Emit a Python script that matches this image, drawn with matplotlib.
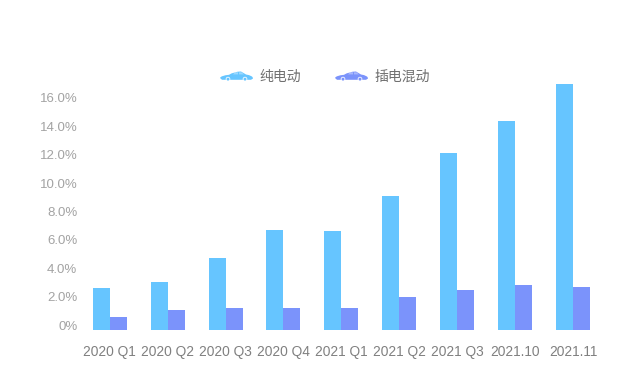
import matplotlib
matplotlib.use("Agg")
import matplotlib.pyplot as plt
from matplotlib.patches import PathPatch, Circle
from matplotlib.path import Path
from matplotlib.transforms import Affine2D

plt.rcParams['font.family'] = ['Liberation Sans', 'Noto Sans CJK SC', 'DejaVu Sans']

categories = ['2020 Q1', '2020 Q2', '2020 Q3', '2020 Q4', '2021 Q1', '2021 Q2', '2021 Q3', '2021.10', '2021.11']
bev = [2.63, 3.0, 4.72, 6.7, 6.62, 9.09, 12.09, 14.4, 17.0]
phev = [0.58, 1.06, 1.18, 1.23, 1.23, 1.97, 2.5, 2.82, 2.71]
yticks = [0, 2, 4, 6, 8, 10, 12, 14, 16]
ytick_labels = ['0%', '2.0%', '4.0%', '6.0%', '8.0%', '10.0%', '12.0%', '14.0%', '16.0%']
series_names = ['纯电动', '插电混动']

BLUE = '#66C5FF'
PURPLE = '#7B93FB'
W, H = 630, 365
fig = plt.figure(figsize=(W / 100, H / 100), dpi=100, facecolor='white')

# axes box in pixels
left, right, y_base, y_top = 80.8, 601.9, 329.8, 60.0
ax = fig.add_axes([left / W, (H - y_base) / H, (right - left) / W, (y_base - y_top) / H])
scale = 14.19
ax.set_xlim(-0.5, len(categories) - 0.5)
ax.set_ylim(-(y_base - 325) / scale, (325 - y_top) / scale)
baseline = ax.get_ylim()[0]
bw = 17 / 57.9
for i, (a, b) in enumerate(zip(bev, phev)):
    ax.bar(i - bw / 2, a - baseline, bw, bottom=baseline, color=BLUE, linewidth=0)
    ax.bar(i + bw / 2, b - baseline, bw, bottom=baseline, color=PURPLE, linewidth=0)

for s in ax.spines.values():
    s.set_visible(False)
ax.set_xticks(range(len(categories)), categories)
ax.set_yticks(yticks, ytick_labels)
ax.tick_params(axis='x', length=0, pad=11, labelsize=9.9, labelcolor='#808080')
ax.tick_params(axis='y', length=0, pad=2.5, labelsize=9.5, labelcolor='#a3a3a3')


def car(x0, y0, color):
    """Small car icon; x0, y0 = left/bottom in image pixels, y measured from the top."""
    verts = [(0, 3), (1, 5.5), (9, 6.2), (14, 9.5), (21, 9.5), (26, 6.5), (33, 5.5), (33, 2.5), (31, 1.2), (2, 1.2), (0, 3)]
    codes = [Path.MOVETO, Path.CURVE3, Path.LINETO, Path.CURVE3, Path.LINETO, Path.LINETO,
             Path.CURVE3, Path.LINETO, Path.LINETO, Path.LINETO, Path.CLOSEPOLY]
    tr = Affine2D().translate(x0, H - y0)
    fig.add_artist(PathPatch(Path(verts, codes), transform=tr, facecolor=color, edgecolor='none'))
    win = [(13, 6.6), (15, 8.7), (18, 8.7), (18, 6.6), (13, 6.6)]
    fig.add_artist(PathPatch(Path(win, closed=True), transform=tr, facecolor='white', alpha=0.35, edgecolor='none'))
    win = [(19, 6.6), (19, 8.7), (21.5, 8.7), (24, 6.6), (19, 6.6)]
    fig.add_artist(PathPatch(Path(win, closed=True), transform=tr, facecolor='white', alpha=0.35, edgecolor='none'))
    for cx in (8, 25):
        fig.add_artist(Circle((cx, 1.9), 2.3, transform=tr, facecolor='white', edgecolor='none'))
        fig.add_artist(Circle((cx, 1.9), 1.5, transform=tr, facecolor=color, edgecolor='none'))


car(220, 81, BLUE)
car(335, 81, PURPLE)
fig.text(259.5 / W, 1 - 76.5 / H, series_names[0], fontsize=10, color='#707070', va='center', ha='left')
fig.text(374 / W, 1 - 76.5 / H, series_names[1], fontsize=10, color='#707070', va='center', ha='left')

fig.savefig('out.png', dpi=100, facecolor='white')
